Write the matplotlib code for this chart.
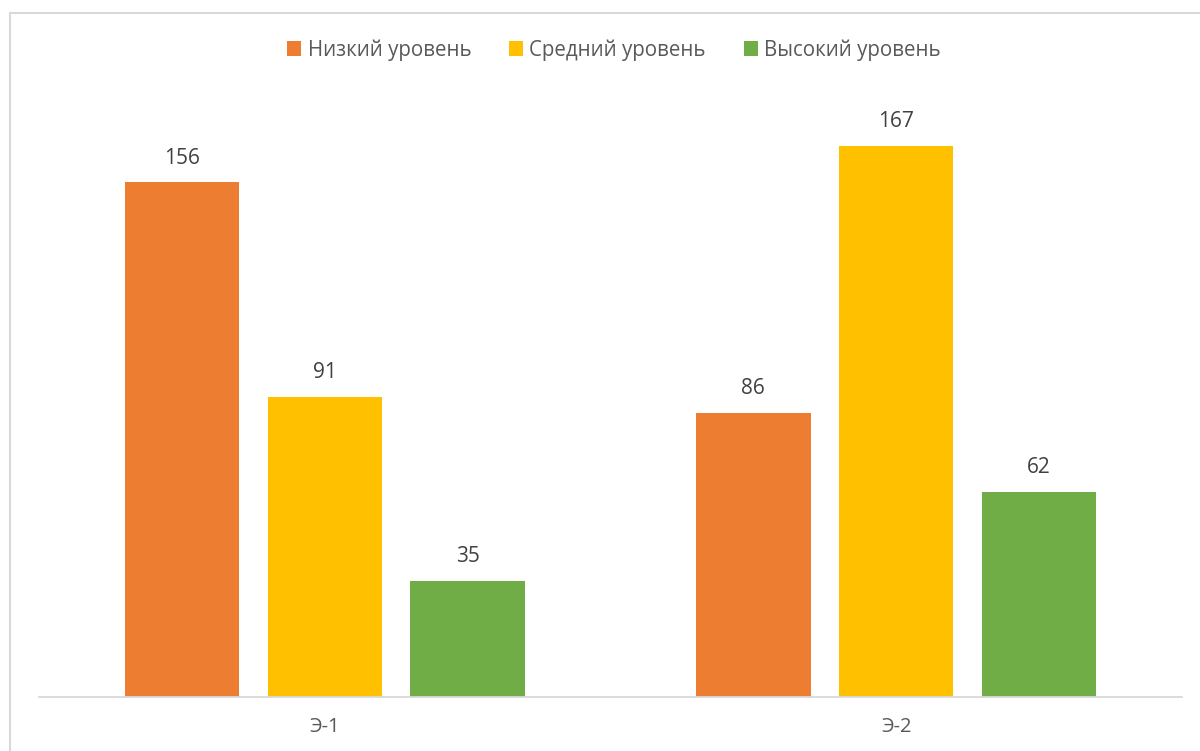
import matplotlib.pyplot as plt
from matplotlib.patches import Rectangle
import numpy as np

plt.rcParams['font.family'] = ['Open Sans', 'DejaVu Sans']

# группы и значения по уровням
groups = ['Э-1', 'Э-2']
levels = ['Низкий уровень', 'Средний уровень', 'Высокий уровень']
low = [156, 86]
mid = [91, 167]
high = [35, 62]
colors = ['#ED7D31', '#FFC000', '#70AD47']

fig = plt.figure(figsize=(12, 7.51), dpi=100)
ax = fig.add_axes([39 / 1200, 54.5 / 751, 1143 / 1200, 659 / 751])

x = np.arange(len(groups))
width = 0.2
step = 0.25
for i, (vals, name, c) in enumerate(zip([low, mid, high], levels, colors)):
    bars = ax.bar(x + (i - 1) * step, vals, width, color=c, label=name)
    ax.bar_label(bars, padding=10, fontsize=15, color='#404040')

ax.set_xlim(-0.5, 1.5)
ax.set_ylim(0, 200)
ax.set_xticks(x)
ax.set_xticklabels(groups, fontsize=14.5, color='#595959')
ax.tick_params(axis='x', length=0, pad=15)
ax.set_yticks([])
for s in ['top', 'right', 'left']:
    ax.spines[s].set_visible(False)
ax.spines['bottom'].set_color('#d9d9d9')
ax.spines['bottom'].set_linewidth(1.3)

fig.legend(loc='center', bbox_to_anchor=(614 / 1200, 1 - 50 / 751), ncol=3, frameon=False,
           fontsize=14.8, handlelength=0.68, handleheight=0.68, handletextpad=0.3,
           columnspacing=1.85, labelcolor='#595959')

# рамка вокруг диаграммы
fig.patches.append(Rectangle((10 / 1200, -0.1), 1.2, 1 - 13 / 751 + 0.1,
                             transform=fig.transFigure, fill=False,
                             edgecolor='#d9d9d9', linewidth=1.5))

fig.savefig('out.png')
